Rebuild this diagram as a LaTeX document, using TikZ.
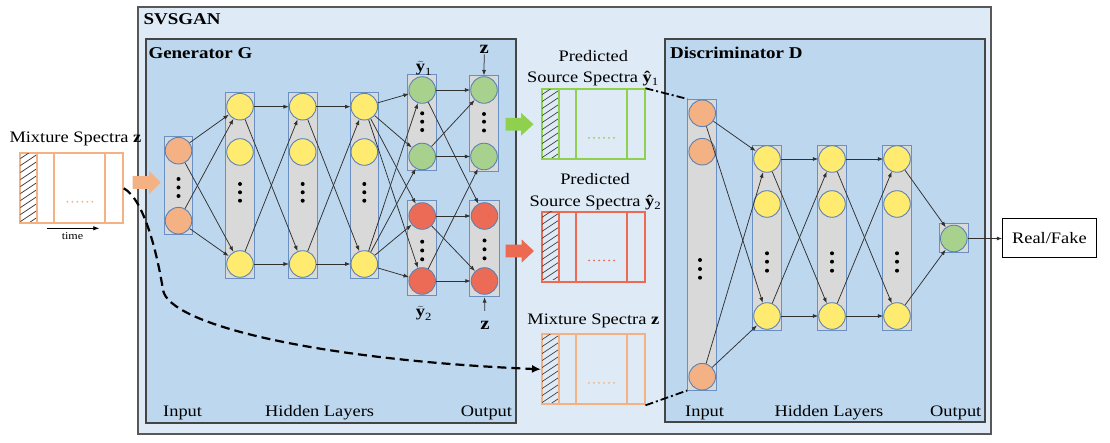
\documentclass[tikz,border=0pt]{standalone}
\usepackage{fontspec}
\setmainfont[FakeStretch=1.15]{Liberation Serif}
\usetikzlibrary{arrows.meta}
\definecolor{outerfill}{HTML}{DEEBF7}
\definecolor{innerfill}{HTML}{BDD7EE}
\definecolor{boxline}{HTML}{454545}
\definecolor{colfill}{HTML}{D9D9D9}
\definecolor{colline}{HTML}{6A8FC2}
\definecolor{nline}{HTML}{5A82B4}
\definecolor{nyellow}{HTML}{FFEB6F}
\definecolor{norange}{HTML}{F4B183}
\definecolor{ngreen}{HTML}{A9D18E}
\definecolor{nred}{HTML}{EC6B56}
\definecolor{sgreen}{HTML}{8FD14F}
\definecolor{sred}{HTML}{EC6A52}
\definecolor{sorange}{HTML}{F4B183}
\definecolor{lcol}{HTML}{303030}
\newcommand\threedots[4]{\foreach \yy in {#2,#3,#4} \fill (#1,\yy) circle (2pt);}
\newcommand\bigarrow[5]{\fill[#5] (#1,#4-6.3) -- (#2,#4-6.3) -- (#2,#4-11.5) -- (#3,#4) -- (#2,#4+11.5) -- (#2,#4+6.3) -- (#1,#4+6.3) -- cycle;}
\newcommand\spectrum[5]{%
  \node[draw=#4, fill=#5, line width=2pt, minimum width=102.5pt, minimum height=70pt, inner sep=0, anchor=north west] (#1) at (#2,#3) {};
  \begin{scope}
    \clip (#2+1,#3+1) rectangle (#2+17,#3+69);
    \foreach \k in {0,7,...,91} \draw[black!75, line width=0.7pt] (#2,#3+\k) -- ++(18,-12);
  \end{scope}
  \draw[#4, line width=2pt] (#2+18,#3) -- ++(0,70) (#2+35,#3) -- ++(0,70) (#2+86,#3) -- ++(0,70);
  \foreach \k in {0,...,5} \fill[#4] (#2+48+5*\k,#3+49.5) circle (1pt);
}
\newcommand\tildey[1]{$\widetilde{\mbox{\bfseries y}}_{\mbox{\fontsize{11pt}{12pt}\selectfont #1}}$}
\begin{document}
\begin{tikzpicture}[x=1pt,y=-1pt,
  lbl/.style={inner sep=0, font=\fontsize{16pt}{19pt}\selectfont},
  ttl/.style={inner sep=0, font=\fontsize{16.5pt}{19pt}\selectfont\bfseries},
  col/.style={draw=colline, fill=colfill, line width=0.9pt, inner sep=0, minimum width=28.5pt},
  neuron/.style={circle, draw=nline, line width=0.9pt, inner sep=0, minimum size=26.6pt},
  conn/.style={draw=lcol, line width=0.75pt, -{Latex[length=5.5pt,width=4pt]}},
  dashcurve/.style={draw=black, line width=2.2pt, dash pattern=on 9pt off 5pt, -{Latex[length=9pt,width=8pt]}},
  dashdot/.style={draw=black, line width=1.8pt, dash pattern=on 8pt off 3pt on 2pt off 3pt}]
\useasboundingbox (0,0) rectangle (1110,443);

% frames
\draw[fill=outerfill, draw=boxline!90, line width=1.3pt] (138,7) rectangle (991,434);
\draw[fill=innerfill, draw=boxline, line width=1.1pt] (146,39) rectangle (516,423);
\draw[fill=innerfill, draw=boxline, line width=1.1pt] (665,39) rectangle (985,422);
\node[ttl, anchor=base west] (tsvs) at (143.3,25) {SVSGAN};
\node[ttl, anchor=base west] (tgen) at (148.3,58.3) {Generator G};
\node[ttl, anchor=base west] (tdis) at (670,59) {Discriminator D};

% ---------- Generator ----------
\node[col, minimum height=98pt] (gic) at (178.5,185) {};
\node[col, minimum height=186.3pt] (gh1col) at (240,185.8) {};
\node[col, minimum height=186.3pt] (gh2col) at (302.7,185.8) {};
\node[col, minimum height=186.3pt] (gh3col) at (364.3,185.8) {};
\node[col, minimum width=29pt, minimum height=95.7pt] (gy1col) at (422.2,122.8) {};
\node[col, minimum width=29pt, minimum height=95pt] (gy2col) at (422.2,247.8) {};
\node[col, minimum width=29.5pt, minimum height=95.7pt] (go1col) at (484,123.8) {};
\node[col, minimum width=30pt, minimum height=96pt] (go2col) at (484.5,248.7) {};

\node[neuron, fill=norange] (gi1) at (178.5,150.7) {};
\node[neuron, fill=norange] (gi2) at (178.5,220.7) {};
\threedots{178.5}{179}{187.5}{196}
\foreach \n/\x in {1/240,2/302.7,3/364.3}{
  \node[neuron, fill=nyellow] (gh\n a) at (\x,106.7) {};
  \node[neuron, fill=nyellow] (gh\n b) at (\x,152) {};
  \node[neuron, fill=nyellow] (gh\n c) at (\x,264) {};
  \threedots{\x}{184}{192.3}{200.7}
}
\node[neuron, fill=ngreen] (gy1a) at (422.2,90) {};
\node[neuron, fill=ngreen] (gy1b) at (422.2,156.5) {};
\threedots{422.2}{113.3}{121.7}{130}
\node[neuron, fill=nred] (gy2a) at (422.2,216) {};
\node[neuron, fill=nred] (gy2b) at (422.2,281) {};
\threedots{422.2}{241.7}{250.5}{259.3}
\node[neuron, fill=ngreen] (go1a) at (484,90) {};
\node[neuron, fill=ngreen] (go1b) at (484,156.5) {};
\threedots{484}{114}{121.7}{130.5}
\node[neuron, fill=nred] (go2a) at (484.5,216) {};
\node[neuron, fill=nred] (go2b) at (484.5,281) {};
\threedots{484.5}{240.5}{249.3}{258.3}

\foreach \s in {gi1,gi2} \foreach \t in {gh1a,gh1c} \draw[conn] (\s) -- (\t);
\foreach \s in {gh1a,gh1c} \foreach \t in {gh2a,gh2c} \draw[conn] (\s) -- (\t);
\foreach \s in {gh2a,gh2c} \foreach \t in {gh3a,gh3c} \draw[conn] (\s) -- (\t);
\foreach \s in {gh3a,gh3c} \foreach \t in {gy1a,gy1b,gy2a,gy2b} \draw[conn] (\s) -- (\t);
\foreach \s/\t in {gy1a/go1a,gy1a/go2a,gy1b/go1a,gy1b/go1b,gy2a/go2a,gy2a/go2b,gy2b/go2b,gy2b/go1b} \draw[conn] (\s) -- (\t);

\node[inner sep=1pt, anchor=base, font=\fontsize{18pt}{20pt}\selectfont\bfseries] (zt) at (484.2,53.3) {z};
\draw[conn] (zt.south) -- (go1col.north);
\node[inner sep=1pt, anchor=base, font=\fontsize{18pt}{20pt}\selectfont\bfseries] (zb) at (485,329.3) {z};
\draw[conn, shorten <=9pt] (zb.north) -- (go2col.south);
\node[lbl, anchor=base] (ty1) at (424,71.7) {\tildey{1}};
\node[lbl, anchor=base] (ty2) at (424,316.7) {\tildey{2}};

\node[lbl, anchor=base west] (gin) at (163,416.5) {Input};
\node[lbl, anchor=base west] (ghid) at (265,416.5) {Hidden Layers};
\node[lbl, anchor=base west] (gout) at (460.7,416.5) {Output};

% ---------- Spectra ----------
\node[lbl, anchor=base west] (tmixL) at (9.3,142.3) {Mixture Spectra \textbf{z}};
\spectrum{specL}{19.3}{152.3}{sorange}{white}
\coordinate (tA) at (46.7,228.3);
\coordinate (tB) at (99.3,228.3);
\draw[draw=black, line width=0.8pt, -{Latex[length=6pt,width=4.5pt]}] (tA) -- (tB);
\node[inner sep=0, anchor=base, font=\fontsize{10.5pt}{12pt}\selectfont] (ttime) at (72.5,239.5) {time};

\node[lbl, anchor=base] (tpred1) at (593.3,61.7) {Predicted};
\node[lbl, anchor=base] (tsrc1) at (593,82.7) {Source Spectra \textbf{ŷ}\textsubscript{1}};
\spectrum{specG}{541}{88.3}{sgreen}{outerfill}
\node[lbl, anchor=base] (tpred2) at (595,184.5) {Predicted};
\node[lbl, anchor=base] (tsrc2) at (595.5,206.7) {Source Spectra \textbf{ŷ}\textsubscript{2}};
\spectrum{specR}{541}{211}{sred}{outerfill}
\node[lbl, anchor=base] (tmixM) at (593.3,324) {Mixture Spectra \textbf{z}};
\spectrum{specM}{541}{333.3}{sorange}{outerfill}

\bigarrow{132.7}{149}{160.5}{182.5}{sorange}
\bigarrow{505.7}{521}{533.5}{124.3}{sgreen}
\bigarrow{505.7}{521.7}{534}{251}{sred}

\draw[dashcurve] (specL.east) .. controls (145,200) and (158,258) .. (163,290) .. controls (169,325) and (320,360) .. (specM.west);

% ---------- Discriminator ----------
\node[col, minimum width=29pt, minimum height=290.7pt] (dic) at (702.2,244.7) {};
\node[neuron, fill=norange] (di1) at (702.2,113.3) {};
\node[neuron, fill=norange] (di2) at (702.2,151.7) {};
\node[neuron, fill=norange] (di3) at (702.2,376.7) {};
\threedots{700}{260}{269}{277.7}
\foreach \n/\x in {1/767,2/832,3/897}{
  \node[col, minimum width=29.5pt, minimum height=185pt] (dh\n col) at (\x,238.2) {};
  \node[neuron, fill=nyellow] (dh\n a) at (\x,159) {};
  \node[neuron, fill=nyellow] (dh\n b) at (\x,204) {};
  \node[neuron, fill=nyellow] (dh\n c) at (\x,316) {};
  \threedots{\x}{253.3}{261.7}{270.7}
}
\node[col, minimum width=29pt, minimum height=28.5pt] (doc) at (953.8,238.2) {};
\node[neuron, fill=ngreen] (dout) at (953.8,238.5) {};
\node[draw=black, fill=white, line width=1pt, minimum width=93.3pt, minimum height=39pt, inner sep=0, font=\fontsize{16pt}{19pt}\selectfont] (rf) at (1049.4,238.5) {Real/Fake};

\foreach \s in {di1,di3} \foreach \t in {dh1a,dh1c} \draw[conn] (\s) -- (\t);
\foreach \s in {dh1a,dh1c} \foreach \t in {dh2a,dh2c} \draw[conn] (\s) -- (\t);
\foreach \s in {dh2a,dh2c} \foreach \t in {dh3a,dh3c} \draw[conn] (\s) -- (\t);
\foreach \s in {dh3a,dh3c} \draw[conn] (\s) -- (dout);
\draw[conn] (dout) -- (rf);

\draw[dashdot] (specG.north east) -- (dic.north west);
\draw[dashdot] (specM.south east) -- (dic.south west);

\node[lbl, anchor=base west] (din) at (685,416) {Input};
\node[lbl, anchor=base west] (dhid) at (774.3,416) {Hidden Layers};
\node[lbl, anchor=base west] (dout2) at (930,416) {Output};
\end{tikzpicture}
\end{document}
